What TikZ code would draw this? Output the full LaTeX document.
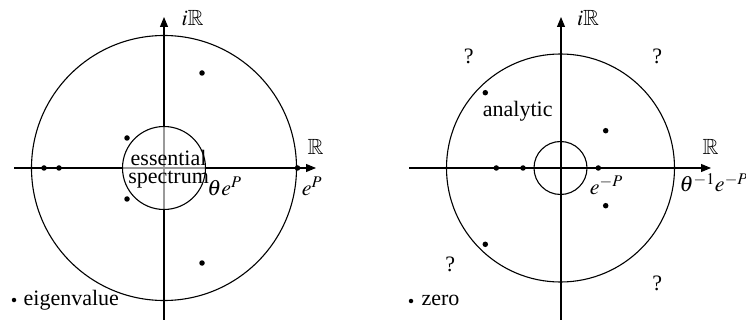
\documentclass[tikz,border=0pt]{standalone}
\usepackage{mathptmx}
\usepackage{amssymb}
\usepackage{fontspec}
\setmainfont{Liberation Serif}
\usetikzlibrary{arrows.meta}
\tikzset{
  axis/.style={line width=1.1pt,-{Triangle[length=10pt,width=8pt]}},
  ring/.style={line width=1.1pt},
  dot/.style={circle,fill=black,inner sep=0pt,minimum size=5.5pt},
  lab/.style={inner sep=0pt},
}
\begin{document}
\begin{tikzpicture}[x=1pt,y=-1pt,font=\fontsize{22}{26}\selectfont]
\useasboundingbox (0,0) rectangle (746,320);
% ---------- left panel ----------
\coordinate (Lb) at (164,325);
\coordinate (Lt) at (164,17);
\coordinate (Ll) at (14,168);
\coordinate (Lr) at (316,168);
\coordinate (Lc) at (164,168);
\draw[axis] (Lb) -- (Lt);
\draw[axis] (Ll) -- (Lr);
\draw[ring] (Lc) circle[radius=132.5pt];
\fill[white,opacity=0.6] (Lc) circle[radius=41.5pt];
\draw[ring] (Lc) circle[radius=41.5pt];
\node[dot] (ld1) at (202,73) {};
\node[dot] (ld2) at (127,138) {};
\node[dot] (ld3) at (127,199) {};
\node[dot] (ld4) at (202,263) {};
\node[dot] (ld5) at (44,168) {};
\node[dot] (ld6) at (59,168) {};
\node[dot] (ld7) at (297.5,168) {};
\node[lab] (liR) at (192.5,18.5) {$i\mathbb{R}$};
\node[lab] (lR) at (315.5,147) {$\mathbb{R}$};
\node[lab] (leP) at (312,186) {$e^P$};
\node[lab] (lteP) at (224.5,186) {$\theta e^P$};
\node[lab,anchor=base,align=center,font=\fontsize{22}{18.5}\selectfont] (less) at (168.6,184) {essential\\spectrum};
\node[dot,minimum size=4.5pt] (lbul) at (14,300) {};
\node[lab,anchor=base west] (leig) at (23.5,305) {eigenvalue};
% ---------- right panel ----------
\coordinate (Rb) at (561,325);
\coordinate (Rt) at (561,17);
\coordinate (Rl) at (409,168);
\coordinate (Rr) at (711,168);
\coordinate (Rc) at (560.5,168);
\draw[axis] (Rb) -- (Rt);
\draw[axis] (Rl) -- (Rr);
\draw[ring] (Rc) circle[radius=114pt];
\draw[ring] (Rc) circle[radius=26.5pt];
\node[dot] (rd1) at (485.3,92.7) {};
\node[dot] (rd2) at (605.7,130.7) {};
\node[dot] (rd3) at (496.3,168) {};
\node[dot] (rd4) at (523,168) {};
\node[dot] (rd5) at (598.3,168) {};
\node[dot] (rd6) at (605.7,205.7) {};
\node[dot] (rd7) at (485.3,244.3) {};
\node[lab] (riR) at (588,18.5) {$i\mathbb{R}$};
\node[lab] (rR) at (710.5,147) {$\mathbb{R}$};
\node[lab] (reP) at (606.3,185) {$e^{-P}$};
\node[lab,anchor=base west] (rteP) at (679.5,192) {$\theta^{-1}e^{-P}$};
\node[lab,anchor=base] (rana) at (517.7,116.7) {analytic};
\node[lab] (rq1) at (468.7,56.7) {?};
\node[lab] (rq2) at (657.3,56.7) {?};
\node[lab] (rq3) at (450.3,264.3) {?};
\node[lab] (rq4) at (657.3,283.3) {?};
\node[dot,minimum size=4.5pt] (rbul) at (411,301) {};
\node[lab,anchor=base west] (rzero) at (421.3,305) {zero};
\end{tikzpicture}
\end{document}
